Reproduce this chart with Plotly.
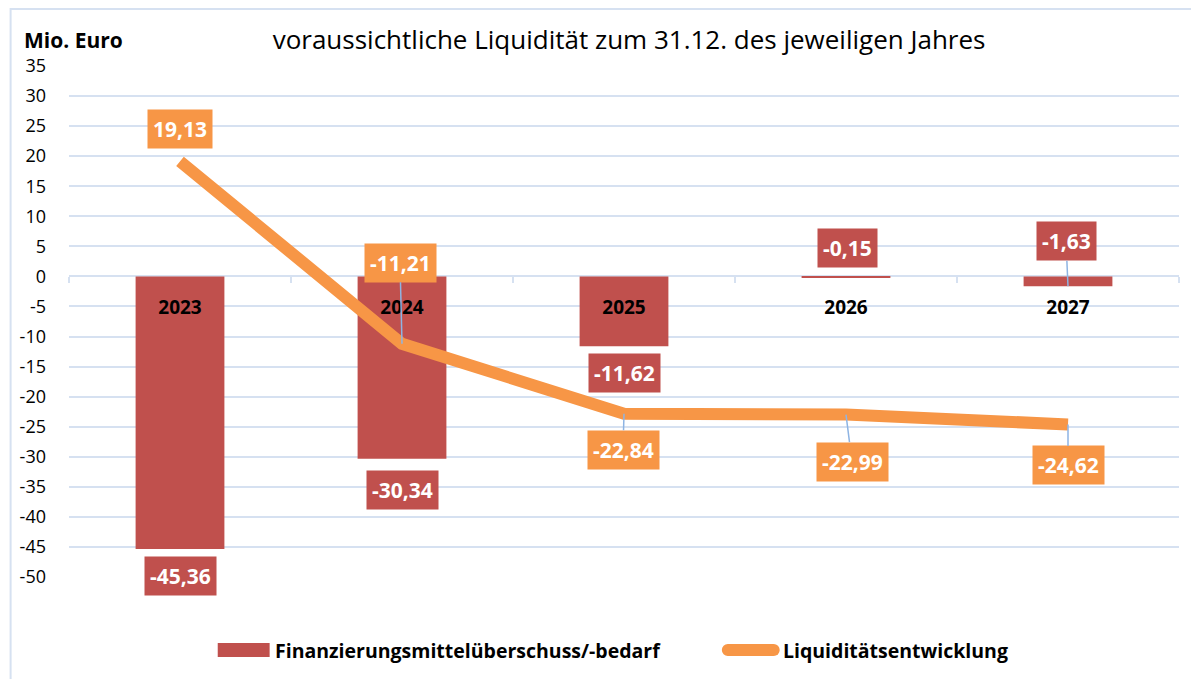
import plotly.graph_objects as go

years = ["2023", "2024", "2025", "2026", "2027"]
finanz = [-45.36, -30.34, -11.62, -0.15, -1.63]
liquid = [19.13, -11.21, -22.84, -22.99, -24.62]
y_ticks = list(range(-50, 36, 5))
y_min, y_max = -50, 35

RED = "#C0504D"
ORANGE = "#F79646"
GRID = "#D6E1F1"
LEADER = "#8EB4E3"
FONT = "Open Sans"

W, H = 1199, 679
L, R, T, B = 59, 28, 58, 110
PW, PH = W - L - R, H - T - B


def px(xp):
    return (xp - L) / PW


def py(yp):
    return (H - B - yp) / PH


fig = go.Figure()
fig.add_trace(go.Bar(
    x=years, y=finanz, name="Finanzierungsmittelüberschuss/-bedarf",
    marker=dict(color=RED, line=dict(width=0)), width=0.4, showlegend=False,
))
fig.add_trace(go.Scatter(
    x=years, y=liquid, name="Liquiditätsentwicklung", mode="lines",
    line=dict(color=ORANGE, width=12), showlegend=False,
))


def fmt(v):
    return f"{v:.2f}".replace(".", ",")


# label offsets (pixels) and whether a leader line is shown
bar_off = [(0, 27, False), (0, 31, False), (0, 27, False), (1, -29, False), (-2, -45, True)]
line_off = [(0, -32, False), (-2, -81, True), (-1, 36, True), (6, 47, True), (0, 41, True)]

LBL_FONT = dict(family=FONT, size=21, color="white")

for i, (v, (ax, ay, lead)) in enumerate(zip(finanz, bar_off)):
    fig.add_annotation(
        x=i, y=v, text=f"<b>{fmt(v)}</b>", showarrow=True, ax=ax, ay=ay,
        arrowhead=0, arrowwidth=1.5,
        arrowcolor=LEADER if lead else "rgba(0,0,0,0)",
        bgcolor=RED, borderpad=5, font=LBL_FONT,
    )
for i, (v, (ax, ay, lead)) in enumerate(zip(liquid, line_off)):
    fig.add_annotation(
        x=i, y=v, text=f"<b>{fmt(v)}</b>", showarrow=True, ax=ax, ay=ay,
        arrowhead=0, arrowwidth=1.5,
        arrowcolor=LEADER if lead else "rgba(0,0,0,0)",
        bgcolor=ORANGE, borderpad=5, font=LBL_FONT,
    )

# axis unit label
fig.add_annotation(
    xref="paper", yref="paper", x=px(12), y=py(32), xanchor="left", yanchor="middle",
    text="<b>Mio. Euro</b>", showarrow=False,
    font=dict(family=FONT, size=21, color="black"),
)

# chart frame
fig.add_shape(type="rect", xref="paper", yref="paper",
              x0=px(0.5), x1=px(W + 20), y0=py(H + 20), y1=py(1),
              line=dict(color=GRID, width=2), layer="below")

# custom legend
fig.add_shape(type="rect", xref="paper", yref="paper",
              x0=px(208), x1=px(260), y0=py(649), y1=py(635),
              fillcolor=RED, line=dict(width=0))
fig.add_shape(type="line", xref="paper", yref="paper",
              x0=px(719), x1=px(765), y0=py(642), y1=py(642),
              line=dict(color=ORANGE, width=12))
fig.add_shape(type="circle", xref="paper", yref="paper",
              x0=px(713), x1=px(725), y0=py(648), y1=py(636),
              fillcolor=ORANGE, line=dict(width=0))
fig.add_shape(type="circle", xref="paper", yref="paper",
              x0=px(759), x1=px(771), y0=py(648), y1=py(636),
              fillcolor=ORANGE, line=dict(width=0))
fig.add_annotation(
    xref="paper", yref="paper", x=px(263), y=py(642), xanchor="left", yanchor="middle",
    text="<b>Finanzierungsmittelüberschuss/-bedarf</b>", showarrow=False,
    font=dict(family=FONT, size=19.5, color="black"),
)
fig.add_annotation(
    xref="paper", yref="paper", x=px(772), y=py(642), xanchor="left", yanchor="middle",
    text="<b>Liquiditätsentwicklung</b>", showarrow=False,
    font=dict(family=FONT, size=19.5, color="black"),
)

fig.update_layout(
    width=W, height=H,
    margin=dict(l=L, r=R, t=T, b=B),
    paper_bgcolor="white", plot_bgcolor="white",
    font=dict(family=FONT, color="black"),
    title=dict(text="voraussichtliche Liquidität zum 31.12. des jeweiligen Jahres",
               x=px(635), xanchor="center", y=1 - 32 / H, yanchor="middle",
               font=dict(family=FONT, size=26, color="black")),
    showlegend=False,
)
fig.update_yaxes(
    range=[y_min, y_max], tickvals=y_ticks, ticktext=[str(t) for t in y_ticks],
    showgrid=True, gridcolor=GRID, gridwidth=2,
    zeroline=True, zerolinecolor=GRID, zerolinewidth=2,
    showline=False, ticks="", ticklabelstandoff=22,
    tickfont=dict(family=FONT, size=18, color="black"),
)
fig.update_xaxes(
    type="category", range=[-0.5, len(years) - 0.5], autorange=False,
    anchor="free", position=(0 - y_min) / (y_max - y_min),
    showgrid=False, showline=False, zeroline=False,
    ticks="outside", tickson="boundaries", ticklen=6, tickwidth=1.5, tickcolor=GRID,
    ticklabelstandoff=18,
    tickfont=dict(family=FONT, size=19, color="black", weight="bold"),
)

fig.write_html("out.html")
